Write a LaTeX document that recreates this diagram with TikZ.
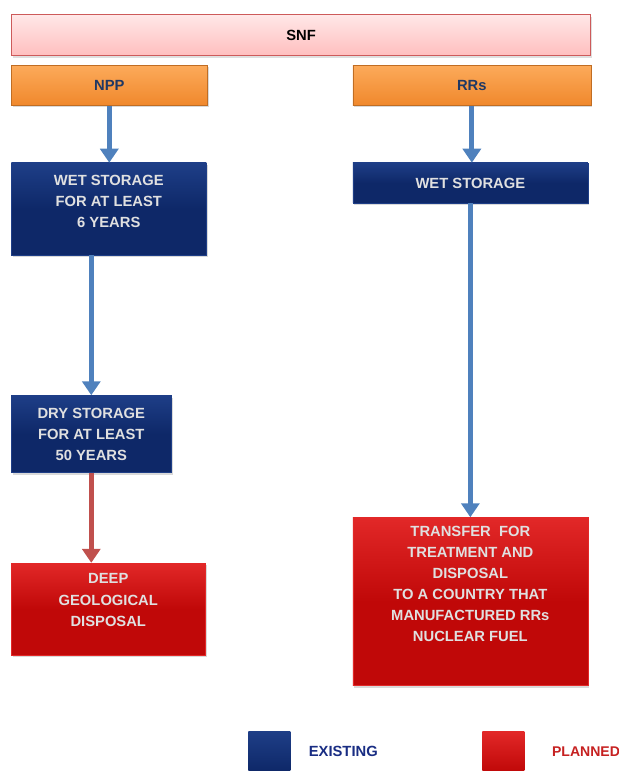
\documentclass[tikz,border=0pt]{standalone}
\usepackage{fontspec}
\setmainfont{Liberation Sans}
\usetikzlibrary{arrows.meta, positioning, shadows}
\definecolor{existing}{RGB}{14, 40, 104}
\definecolor{existtop}{RGB}{30, 62, 135}
\definecolor{planned}{RGB}{192, 8, 8}
\definecolor{plantop}{RGB}{226, 40, 40}
\definecolor{source}{RGB}{240, 136, 44}
\definecolor{sourcetop}{RGB}{252, 170, 90}
\definecolor{snfpink}{RGB}{255, 190, 190}
\definecolor{snftop}{RGB}{255, 232, 232}
\definecolor{snfedge}{RGB}{205, 90, 90}
\definecolor{flowblue}{RGB}{79, 129, 189}
\definecolor{flowred}{RGB}{192, 80, 77}
\definecolor{labelnavy}{RGB}{31, 56, 100}

\begin{document}
\begin{tikzpicture}[
    node distance=1cm,
    % Styles embedded for portability
    base/.style={rectangle, inner sep=2pt, align=center, font=\fontsize{10.5}{15}\selectfont\bfseries},
    box_snf/.style={base, top color=snftop, bottom color=snfpink, draw=snfedge, line width=0.8pt, text=black, drop shadow={opacity=0.25, shadow xshift=0.04cm, shadow yshift=-0.05cm}},
    box_source/.style={base, minimum height=1cm, top color=sourcetop, bottom color=source, draw=source!80!black, text=labelnavy, drop shadow={opacity=0.3, shadow xshift=0.04cm, shadow yshift=-0.05cm}},
    box_existing/.style={base, minimum height=1cm, top color=existtop, bottom color=existing, middle color=existing, draw=existtop, text=white!88!black, drop shadow={opacity=0.3, shadow xshift=0.04cm, shadow yshift=-0.05cm}},
    box_planned/.style={base, top color=plantop, bottom color=planned, middle color=planned, draw=plantop, text=white!88!black, drop shadow={opacity=0.3, shadow xshift=0.04cm, shadow yshift=-0.05cm}},
    key/.style={rectangle, minimum width=1.05cm, minimum height=1cm, inner sep=0pt},
    keytext/.style={base, inner sep=0pt, anchor=west},
    flow/.style={draw=flowblue, line width=3.5pt, -{Triangle[width=0.45cm, length=0.35cm]}},
    flow_planned/.style={flow, draw=flowred}
]
    \useasboundingbox (0,0) rectangle (15.475,-19.275);

    % --- TOP: SNF AND ITS SOURCES ---
    \node [box_snf, minimum width=14.475cm, minimum height=1.025cm, anchor=north west] (snf) at (0.275,-0.35) {SNF};
    \node [box_source, minimum width=4.9cm, below=0.225cm of snf.south west, anchor=north west] (npp) {NPP};
    \node [box_source, minimum width=5.95cm, below=0.225cm of snf.south east, anchor=north east] (rr) {RRs};

    % --- LEFT BRANCH: NPP ---
    \node [box_existing, minimum width=4.875cm, minimum height=2.3cm, below=1.425cm of npp.south west, anchor=north west] (wet_npp) {WET STORAGE\\FOR AT LEAST\\6 YEARS\\[-4pt]};
    \node [box_existing, minimum width=4cm, minimum height=1.925cm, below=3.5cm of wet_npp.south west, anchor=north west] (dry) {DRY STORAGE\\FOR AT LEAST\\50 YEARS};
    \node [box_planned, minimum width=4.85cm, minimum height=2.3cm, below=2.25cm of dry.south west, anchor=north west] (deep) {DEEP\\GEOLOGICAL\\DISPOSAL\\[-2pt]};

    % --- RIGHT BRANCH: RRs ---
    \node [box_existing, minimum width=5.875cm, below=1.425cm of rr.south west, anchor=north west] (wet_rr) {WET STORAGE};
    \node [box_planned, minimum width=5.875cm, minimum height=4.2cm, below=7.85cm of wet_rr.south west, anchor=north west] (transfer) {TRANSFER\ \ FOR\\TREATMENT AND\\DISPOSAL\\TO A COUNTRY THAT\\MANUFACTURED RRs\\NUCLEAR FUEL\\[10pt]};

    % --- CONNECTIONS ---
    \draw [flow] (npp.south) -- (npp.south |- wet_npp.north);
    \draw [flow] (wet_npp.south -| dry.north) -- (dry.north);
    \draw [flow_planned] (dry.south) -- (dry.south |- deep.north);
    \draw [flow] (rr.south) -- (rr.south |- wet_rr.north);
    \draw [flow] (wet_rr.south) -- (wet_rr.south |- transfer.north);

    % --- LEGEND ---
    \node [key, top color=existtop, bottom color=existing, anchor=north west] (key_existing) at (6.2,-18.275) {};
    \node [keytext, text=labelnavy!80!blue, right=0.45cm of key_existing] (txt_existing) {EXISTING};
    \node [key, top color=plantop, bottom color=planned, anchor=north west] (key_planned) at (12.05,-18.275) {};
    \node [keytext, text=planned!90!white, font=\fontsize{10}{15}\selectfont\bfseries, right=0.68cm of key_planned] (txt_planned) {PLANNED};

\end{tikzpicture}
\end{document}
